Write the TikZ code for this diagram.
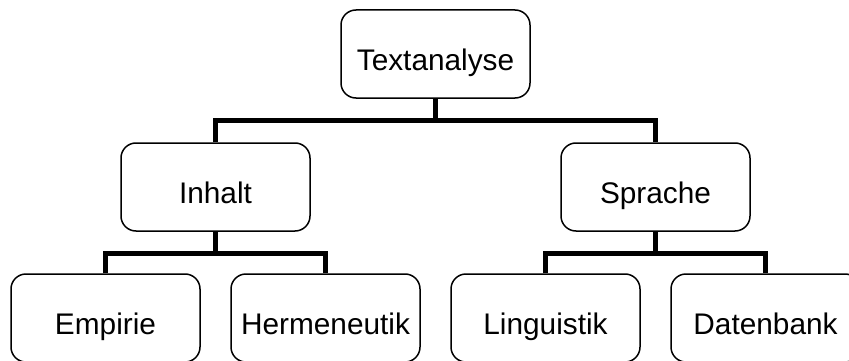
\documentclass[tikz,border=0pt]{standalone}
\usepackage{fontspec}
\setmainfont{Liberation Sans}
\begin{document}
\begin{tikzpicture}[x=1pt,y=-1pt,
  box/.style={draw=black,line width=1.5pt,rounded corners=15pt,fill=white,
    minimum width=189pt,minimum height=88pt,inner sep=0pt,
    text height=33pt,text depth=0pt,
    font=\fontsize{29.8}{34}\selectfont},
  conn/.style={draw=black,line width=5pt,line join=miter}]
\useasboundingbox (0,0) rectangle (849,361);
\fill[white] (0,0) rectangle (849,361);
\node[box] (ta) at (435.5,54) {Textanalyse};
\node[box] (inh) at (215.5,187) {Inhalt};
\node[box] (spr) at (655.5,187) {Sprache};
\node[box] (emp) at (105.5,318) {Empirie};
\node[box] (her) at (325.5,318) {Hermeneutik};
\node[box] (lin) at (545.5,318) {Linguistik};
\node[box] (dat) at (765.5,318) {Datenbank};
\coordinate (b1) at (435.5,120);
\coordinate (b2) at (215.5,253);
\coordinate (b3) at (655.5,253);
\draw[conn] (ta.south) -- (b1);
\draw[conn] (inh.north) |- (b1) -| (spr.north);
\draw[conn] (inh.south) -- (b2);
\draw[conn] (emp.north) |- (b2) -| (her.north);
\draw[conn] (spr.south) -- (b3);
\draw[conn] (lin.north) |- (b3) -| (dat.north);
\end{tikzpicture}
\end{document}
